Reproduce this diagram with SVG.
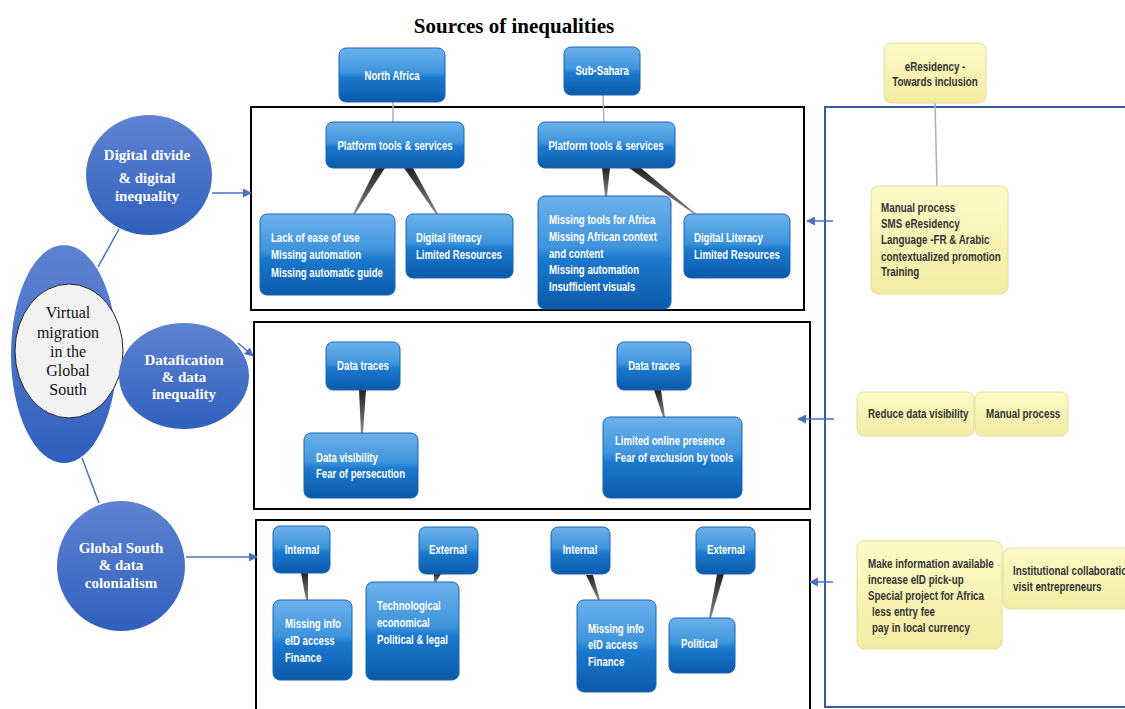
<svg xmlns="http://www.w3.org/2000/svg" width="1125" height="709" viewBox="0 0 1125 709">
<style>
.frame{fill:none;stroke:#000;stroke-width:2}
.bframe{fill:none;stroke:#3a5ca8;stroke-width:2}
.bb{fill:url(#gBlue);stroke:#1a64b8;stroke-width:1}
.yb{fill:url(#gYel);stroke:#e4dea0;stroke-width:1}
.circ{fill:url(#gCirc)}
.bt{font-family:"Liberation Sans",Arial,sans-serif;font-weight:bold;font-size:12px;fill:#fff;transform-box:fill-box;transform-origin:0 50%;transform:scaleX(0.8)}
.yt{font-family:"Liberation Sans",Arial,sans-serif;font-weight:bold;font-size:12px;fill:#333;transform-box:fill-box;transform-origin:0 50%;transform:scaleX(0.82)}
.mid{text-anchor:middle;transform-origin:50% 50%}
.ct{font-family:"Liberation Serif","Times New Roman",serif;font-weight:bold;font-size:15px;fill:#fff;text-anchor:middle}
.thin{stroke:#b0b0b0;stroke-width:1.5;fill:none}
.wedge{fill:url(#gWedge)}
.link{stroke:#4a6fc0;stroke-width:1.5;fill:none}
.arr{stroke:#4a6fc0;stroke-width:1.5;fill:none;marker-end:url(#ah)}
</style>
<defs>
<linearGradient id="gBlue" x1="0" y1="0" x2="0" y2="1">
<stop offset="0" stop-color="#6cb2ec"/>
<stop offset="0.45" stop-color="#3f94dc"/>
<stop offset="0.55" stop-color="#1b79cd"/>
<stop offset="1" stop-color="#0b5aab"/>
</linearGradient>
<linearGradient id="gYel" x1="0" y1="0" x2="0" y2="1">
<stop offset="0" stop-color="#fdfac8"/>
<stop offset="1" stop-color="#f2eca2"/>
</linearGradient>
<linearGradient id="gCirc" x1="0" y1="0" x2="0" y2="1">
<stop offset="0" stop-color="#5f83d1"/>
<stop offset="1" stop-color="#3060bd"/>
</linearGradient>
<linearGradient id="gWedge" x1="0" y1="0" x2="0" y2="1">
<stop offset="0" stop-color="#222"/>
<stop offset="1" stop-color="#888"/>
</linearGradient>
<marker id="ah" viewBox="0 0 10 10" refX="9" refY="5" markerWidth="6" markerHeight="6" orient="auto">
<path d="M0,0 L10,5 L0,10 z" fill="#4a6fc0"/>
</marker>
</defs>
<rect width="1125" height="709" fill="#fff"/>
<text x="514" y="33" text-anchor="middle" style="font-family:'Liberation Serif','Times New Roman',serif;font-weight:bold;font-size:21px;fill:#000">Sources of inequalities</text>

<!-- frames -->
<rect id="frame1" class="frame" x="251" y="107" width="553" height="203"/>
<rect id="frame2" class="frame" x="254" y="322" width="556" height="187"/>
<rect id="frame3" class="frame" x="256" y="520" width="554" height="200"/>
<rect id="frameRight" class="bframe" x="825" y="107" width="320" height="600"/>

<g id="connectors">
<line class="link" x1="119" y1="229" x2="98" y2="267"/>
<line class="link" x1="82" y1="458" x2="99" y2="503"/>
<line class="arr" x1="212" y1="193" x2="251" y2="193"/>
<line class="arr" x1="238" y1="343" x2="253" y2="356"/>
<line class="arr" x1="186" y1="557" x2="257" y2="557"/>
<line class="arr" x1="833" y1="221" x2="807" y2="221"/>
<line class="arr" x1="834" y1="419" x2="798" y2="419"/>
<line class="arr" x1="833" y1="582" x2="810" y2="582"/>
<line class="thin" x1="393" y1="102" x2="393" y2="122"/>
<line class="thin" x1="603" y1="95" x2="604" y2="122"/>
<line class="thin" x1="935" y1="103" x2="937" y2="186"/>
<polygon class="wedge" points="376,168 385,168 355,214 353,214"/>
<polygon class="wedge" points="404,168 413,168 438,214 436,214"/>
<polygon class="wedge" points="602,168 610,168 607,196 605,196"/>
<polygon class="wedge" points="629,168 641,168 696,214 694,214"/>
<polygon class="wedge" points="359,390 366,390 363,433 361,433"/>
<polygon class="wedge" points="654,390 661,390 665,417 663,417"/>
<polygon class="wedge" points="301,573 308,573 308,600 306,600"/>
<polygon class="wedge" points="434,574 441,574 436,582 434,582"/>
<polygon class="wedge" points="586,575 593,575 600,600 598,600"/>
<polygon class="wedge" points="717,574 724,574 711,618 709,618"/>
</g>

<!-- left circles -->
<g id="virtual-migration">
<ellipse class="circ" cx="64" cy="354" rx="53" ry="109"/>
<ellipse cx="69" cy="351" rx="54" ry="67" fill="#f2f2f2" stroke="#222" stroke-width="1"/>
<g style="font-family:'Liberation Serif','Times New Roman',serif;font-size:16px;fill:#111" text-anchor="middle">
<text x="68" y="318">Virtual</text>
<text x="68" y="338">migration</text>
<text x="68" y="357">in the</text>
<text x="68" y="376">Global</text>
<text x="68" y="395">South</text>
</g>
</g>
<g id="digital-divide">
<ellipse class="circ" cx="149" cy="175" rx="63" ry="60"/>
<text class="ct" x="147" y="160">Digital divide</text>
<text class="ct" x="147" y="183">&amp; digital</text>
<text class="ct" x="147" y="201">inequality</text>
</g>
<g id="datafication">
<ellipse class="circ" cx="184" cy="376" rx="65" ry="53"/>
<text class="ct" x="184" y="365">Datafication</text>
<text class="ct" x="184" y="382">&amp; data</text>
<text class="ct" x="184" y="399">inequality</text>
</g>
<g id="global-south">
<ellipse class="circ" cx="121" cy="566" rx="64" ry="65"/>
<text class="ct" x="121" y="553">Global South</text>
<text class="ct" x="121" y="570">&amp; data</text>
<text class="ct" x="121" y="588">colonialism</text>
</g>

<!-- row 1 -->
<g id="north-africa"><rect class="bb" x="339" y="48" width="106" height="54" rx="7"/><text class="bt mid" x="392" y="80">North Africa</text></g>
<g id="sub-sahara"><rect class="bb" x="564" y="47" width="76" height="48" rx="7"/><text class="bt mid" x="602" y="75">Sub-Sahara</text></g>
<g id="platform-na"><rect class="bb" x="326" y="122" width="138" height="46" rx="7"/><text class="bt mid" x="395" y="150">Platform tools &amp; services</text></g>
<g id="platform-ss"><rect class="bb" x="538" y="122" width="137" height="46" rx="7"/><text class="bt mid" x="606" y="150">Platform tools &amp; services</text></g>
<g id="lack-ease"><rect class="bb" x="260" y="214" width="135" height="81" rx="7"/>
<text class="bt" x="271" y="242">Lack of ease of use</text><text class="bt" x="271" y="259">Missing automation</text><text class="bt" x="271" y="277">Missing automatic guide</text></g>
<g id="digital-literacy-na"><rect class="bb" x="406" y="214" width="107" height="64" rx="7"/>
<text class="bt" x="416" y="242">Digital literacy</text><text class="bt" x="416" y="259">Limited Resources</text></g>
<g id="missing-tools"><rect class="bb" x="538" y="196" width="133" height="113" rx="7"/>
<text class="bt" x="549" y="224">Missing tools for Africa</text><text class="bt" x="549" y="241">Missing African context</text><text class="bt" x="549" y="258">and content</text><text class="bt" x="549" y="274">Missing automation</text><text class="bt" x="549" y="291">Insufficient visuals</text></g>
<g id="digital-literacy-ss"><rect class="bb" x="684" y="214" width="106" height="64" rx="7"/>
<text class="bt" x="694" y="242">Digital Literacy</text><text class="bt" x="694" y="259">Limited Resources</text></g>

<!-- row 2 -->
<g id="data-traces-1"><rect class="bb" x="326" y="342" width="74" height="48" rx="7"/><text class="bt mid" x="363" y="370">Data traces</text></g>
<g id="data-visibility"><rect class="bb" x="304" y="433" width="114" height="65" rx="7"/>
<text class="bt" x="316" y="462">Data visibility</text><text class="bt" x="316" y="478">Fear of persecution</text></g>
<g id="data-traces-2"><rect class="bb" x="617" y="342" width="74" height="48" rx="7"/><text class="bt mid" x="654" y="370">Data traces</text></g>
<g id="limited-online"><rect class="bb" x="603" y="417" width="139" height="81" rx="7"/>
<text class="bt" x="615" y="445">Limited online presence</text><text class="bt" x="615" y="462">Fear of exclusion by tools</text></g>

<!-- row 3 -->
<g id="internal-1"><rect class="bb" x="273" y="526" width="57" height="47" rx="7"/><text class="bt mid" x="302" y="554">Internal</text></g>
<g id="missing-info-1"><rect class="bb" x="273" y="600" width="79" height="80" rx="7"/>
<text class="bt" x="285" y="628">Missing info</text><text class="bt" x="285" y="645">eID access</text><text class="bt" x="285" y="662">Finance</text></g>
<g id="external-1"><rect class="bb" x="419" y="527" width="59" height="47" rx="7"/><text class="bt mid" x="448" y="554">External</text></g>
<g id="technological"><rect class="bb" x="366" y="582" width="93" height="98" rx="7"/>
<text class="bt" x="377" y="610">Technological</text><text class="bt" x="377" y="627">economical</text><text class="bt" x="377" y="644">Political &amp; legal</text></g>
<g id="internal-2"><rect class="bb" x="551" y="527" width="59" height="47" rx="7"/><text class="bt mid" x="580" y="554">Internal</text></g>
<g id="missing-info-2"><rect class="bb" x="577" y="600" width="79" height="92" rx="7"/>
<text class="bt" x="588" y="633">Missing info</text><text class="bt" x="588" y="649">eID access</text><text class="bt" x="588" y="666">Finance</text></g>
<g id="external-2"><rect class="bb" x="696" y="527" width="59" height="47" rx="7"/><text class="bt mid" x="726" y="554">External</text></g>
<g id="political"><rect class="bb" x="669" y="618" width="66" height="55" rx="7"/><text class="bt" x="681" y="648">Political</text></g>

<!-- right yellow -->
<g id="eresidency"><rect class="yb" x="884" y="43" width="102" height="60" rx="7"/>
<text class="yt mid" x="935" y="71">eResidency -</text><text class="yt mid" x="935" y="86">Towards inclusion</text></g>
<g id="manual-list"><rect class="yb" x="871" y="186" width="137" height="108" rx="7"/>
<text class="yt" x="881" y="212">Manual process</text><text class="yt" x="881" y="228">SMS eResidency</text><text class="yt" x="881" y="244">Language -FR &amp; Arabic</text><text class="yt" x="881" y="261">contextualized promotion</text><text class="yt" x="881" y="276">Training</text></g>
<g id="reduce-visibility"><rect class="yb" x="857" y="392" width="117" height="44" rx="7"/><text class="yt" x="868" y="418">Reduce data visibility</text></g>
<g id="manual-process"><rect class="yb" x="975" y="392" width="93" height="44" rx="7"/><text class="yt" x="986" y="418">Manual process</text></g>
<g id="make-info"><rect class="yb" x="857" y="541" width="145" height="108" rx="7"/>
<text class="yt" x="868" y="568">Make information available</text><text class="yt" x="868" y="584">increase eID pick-up</text><text class="yt" x="868" y="600">Special project for Africa</text><text class="yt" x="872" y="616">less entry fee</text><text class="yt" x="872" y="632">pay in local currency</text></g>
<g id="institutional"><rect class="yb" x="1003" y="548" width="140" height="61" rx="7"/>
<text class="yt" x="1013" y="575">Institutional collaboration</text><text class="yt" x="1013" y="591">visit entrepreneurs</text></g>
</svg>
